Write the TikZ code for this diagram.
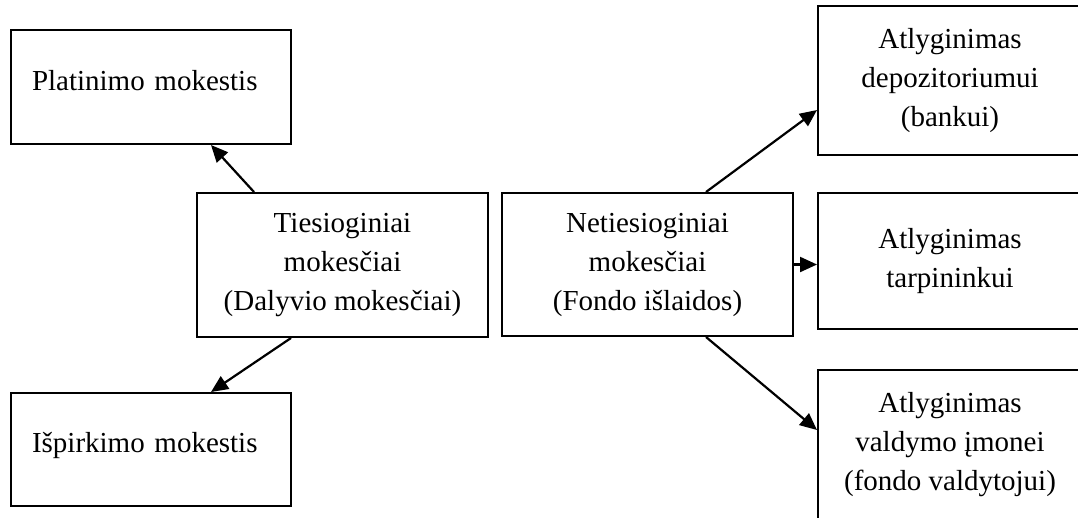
\documentclass[tikz,border=0pt]{standalone}
\usepackage{fontspec}
\setmainfont{Liberation Serif}
\usepackage{tikz}
\usetikzlibrary{positioning, arrows.meta}

\begin{document}
\begin{tikzpicture}[
    x=1pt, y=-1pt,
    font=\fontsize{29}{39}\selectfont,
    box/.style={draw, line width=2pt, align=center, inner sep=0pt},
    single/.style={box, align=left, text width=238pt, inner xsep=21pt,
        text height=20pt, text depth=14pt},
    arr/.style={-{Triangle[length=17pt, width=15pt]}, line width=2.2pt}
]
    \useasboundingbox (0,0) rectangle (1078,517);
    \clip (0,0) rectangle (1078,517);

    % Left side: direct fees.
    \node[single, minimum height=114pt] (plat) at (151,87) {Platinimo mokestis};
    \node[single, minimum height=113pt] (ispirk) at (151,449.5) {Išpirkimo mokestis};
    \node[box, minimum width=291pt, minimum height=144pt] (tiesiog) at (342.5,265)
        {Tiesioginiai\\mokesčiai\\(Dalyvio mokesčiai)};

    % Right side: indirect fees.
    \node[box, minimum width=291pt, minimum height=143pt] (netiesiog) at (647.5,264.5)
        {Netiesioginiai\\mokesčiai\\(Fondo išlaidos)};
    \node[box, minimum width=264pt, minimum height=149pt] (depoz) at (950,80.5)
        {Atlyginimas\\depozitoriumui\\(bankui)};
    \node[box, minimum width=264pt, minimum height=136pt] (tarp) at (950,261)
        {Atlyginimas\\tarpininkui};
    \node[box, minimum width=264pt, minimum height=150pt] (valdym) at (950,445)
        {Atlyginimas\\valdymo įmonei\\(fondo valdytojui)};

    \path[arr]
        ([xshift=58pt]tiesiog.north west) edge ([xshift=60pt]plat.south)
        ([xshift=95pt]tiesiog.south west) edge ([xshift=60pt]ispirk.north)
        ([xshift=205pt]netiesiog.north west) edge ([yshift=-29.5pt]depoz.west)
        (netiesiog.east) edge (netiesiog.east -| tarp.west)
        ([xshift=205pt]netiesiog.south west) edge ([yshift=15pt]valdym.west);
\end{tikzpicture}
\end{document}
